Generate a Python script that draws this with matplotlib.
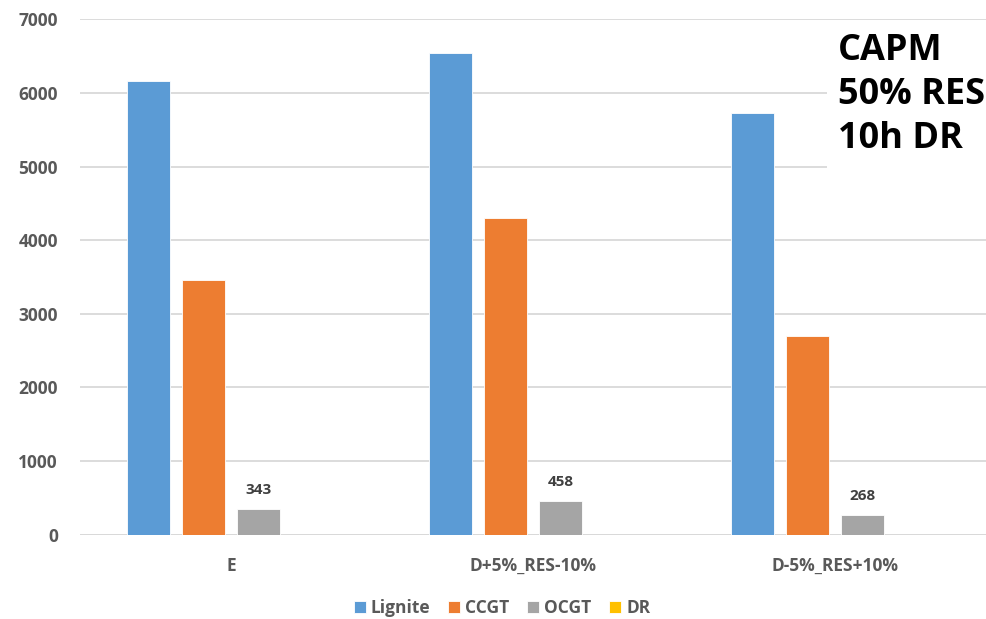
import matplotlib
matplotlib.use("Agg")
import matplotlib.pyplot as plt
import numpy as np

scenarios = ["E", "D+5%_RES-10%", "D-5%_RES+10%"]
technologies = ["Lignite", "CCGT", "OCGT", "DR"]
lignite = [6160, 6550, 5730]
ccgt = [3460, 4300, 2700]
ocgt = [343, 458, 268]
dr = [0, 0, 0]
colors = ["#5B9BD5", "#ED7D31", "#A5A5A5", "#FFC000"]
yticks = [0, 1000, 2000, 3000, 4000, 5000, 6000, 7000]

plt.rcParams["font.family"] = ["Open Sans", "DejaVu Sans"]

fig = plt.figure(figsize=(9.86, 6.19), dpi=100)
ax = fig.add_axes([80 / 986, 0.1365, 906 / 986, 0.832])

x = np.arange(len(scenarios))
step = 0.182
width = 0.142
series = [lignite, ccgt, ocgt, dr]
for i, (name, vals, c) in enumerate(zip(technologies, series, colors)):
    bars = ax.bar(x + (i - 1.5) * step, vals, width, color=c, label=name,
                  edgecolor="white", linewidth=0.6, zorder=3)
    if name == "OCGT":
        for b, v in zip(bars, vals):
            ax.text(b.get_x() + b.get_width() / 2, v + 160, f"{v}",
                    ha="center", va="bottom", fontsize=11,
                    fontweight="bold", color="#404040")

ax.set_xlim(-0.5, 2.5)
ax.set_ylim(0, 7000)
ax.set_yticks(yticks)
ax.set_yticklabels([str(t) for t in yticks])
ax.set_xticks(x)
ax.set_xticklabels(scenarios)
ax.yaxis.grid(True, color="#D9D9D9", linewidth=1.3, zorder=0)
ax.set_axisbelow(True)
for s in ax.spines.values():
    s.set_visible(False)
ax.tick_params(axis="both", length=0, labelsize=12.5, labelcolor="#595959")
ax.tick_params(axis="y", pad=16)
ax.tick_params(axis="x", pad=16)
for lab in ax.get_xticklabels() + ax.get_yticklabels():
    lab.set_fontweight("bold")
ax.axhline(0, color="#D9D9D9", linewidth=1.3, zorder=2)

leg = fig.legend(loc="center", bbox_to_anchor=(502 / 986, 1 - 608 / 619),
                 ncol=4, frameon=False, handlelength=0.7, handleheight=0.7,
                 handletextpad=0.3, columnspacing=1.0,
                 prop={"weight": "bold", "size": 12.5})
for t in leg.get_texts():
    t.set_color("#595959")

fig.text(838 / 986, 1 - 33 / 619, "CAPM\n50% RES\n10h DR", ha="left", va="top",
         fontsize=26, fontweight="bold", color="black", linespacing=1.3,
         bbox=dict(facecolor="white", edgecolor="none", pad=8))

fig.savefig("out.png", dpi=100)
